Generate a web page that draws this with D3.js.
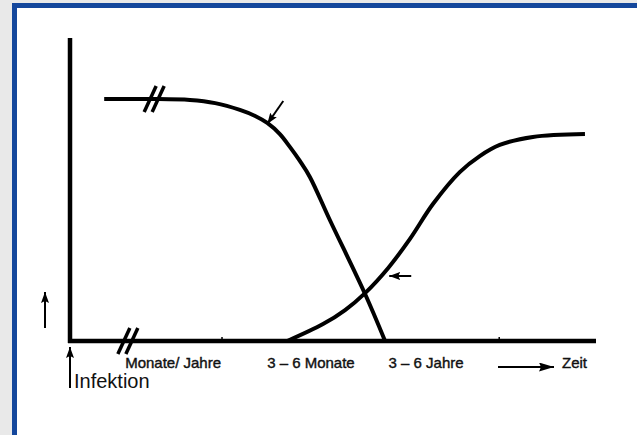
<!DOCTYPE html>
<html>
<head>
<meta charset="utf-8">
<script src="https://cdn.jsdelivr.net/npm/d3@7"></script>
<style>
	html, body { margin: 0; padding: 0; background: #e9e9e9; }
	svg { display: block; }
	text { font-family: "Liberation Sans", Arial, sans-serif; fill: #111; }
</style>
</head>
<body>
<svg id="chart" width="637" height="435"></svg>
<script>
// Verlauf (Zeit 0-100, Niveau 0-100)
var fallendTime = [6.5, 15.2, 22.8, 27.6, 32.3, 35.2, 37.5, 39.9, 41.8, 43.7, 45.6, 49.4, 56.1, 59.9];
var fallendLevel = [100, 100, 99.6, 98.3, 95.5, 93.0, 90.1, 85.5, 80.2, 74.4, 67.8, 50.0, 19.4, 0];
var steigendTime = [41.3, 48.1, 52.3, 56.1, 60.5, 64.6, 69.0, 74.1, 77.9, 81.7, 88.0, 97.9];
var steigendLevel = [0, 7.0, 12.8, 19.8, 30.2, 42.1, 56.6, 69.8, 76.4, 81.0, 84.3, 85.5];

// Beschriftung der Zeitachse
var axisLabels = ["Monate/ Jahre", "3 – 6 Monate", "3 – 6 Jahre"];
var axisLabelTime = [19.6, 45.8, 67.7];
var tickTime = [28.9, 81.6];
var breakAxisTime = 11;
var breakCurveTime = 16;
// Pfeile auf den Kurven
var arrowTime = [37.5, 60.5];

var svg = d3.select("#chart");

// Rahmen
svg.append("rect").attr("x", 12).attr("y", 3).attr("width", 640).attr("height", 450)
	.attr("fill", "#ffffff");
svg.append("path").attr("d", "M14.5,460 V5.5 H640")
	.attr("fill", "none").attr("stroke", "#14479c").attr("stroke-width", 5);

var x = d3.scaleLinear().domain([0, 100]).range([70, 596]);
var y = d3.scaleLinear().domain([0, 100]).range([341, 99]);

var defs = svg.append("defs");
function marker(id, len, wid) {
	defs.append("marker")
		.attr("id", id).attr("viewBox", "0 0 " + len + " " + wid).attr("refX", len).attr("refY", wid / 2)
		.attr("markerWidth", len).attr("markerHeight", wid).attr("markerUnits", "userSpaceOnUse")
		.attr("orient", "auto")
		.append("path").attr("d", "M0,0 L" + len + "," + (wid / 2) + " L0," + wid + " L2," + (wid / 2) + " Z")
		.attr("fill", "#000");
}
marker("head", 11, 8);
marker("headBig", 15, 9);

// Achsen
svg.append("line").attr("x1", x(0)).attr("x2", x(0)).attr("y1", 38).attr("y2", y(0) + 2)
	.attr("stroke", "#000").attr("stroke-width", 4.5);
svg.append("line").attr("x1", x(0) - 2).attr("x2", x(100)).attr("y1", y(0)).attr("y2", y(0))
	.attr("stroke", "#000").attr("stroke-width", 4.5);

svg.selectAll(".tick").data(tickTime).enter().append("line")
	.attr("x1", function(d) { return x(d); }).attr("x2", function(d) { return x(d); })
	.attr("y1", y(0) - 4).attr("y2", y(0))
	.attr("stroke", "#000").attr("stroke-width", 1.5);

// Kurven
var line = d3.line()
	.x(function(d) { return x(d[0]); })
	.y(function(d) { return y(d[1]); })
	.curve(d3.curveCatmullRom.alpha(0.5));

var fallend = d3.zip(fallendTime, fallendLevel);
var steigend = d3.zip(steigendTime, steigendLevel);

svg.append("path").datum(fallend).attr("d", line)
	.attr("fill", "none").attr("stroke", "#000").attr("stroke-width", 4);
svg.append("path").datum(steigend).attr("d", line)
	.attr("fill", "none").attr("stroke", "#000").attr("stroke-width", 4);

// Unterbrechungen "//"
function brk(cx, cy) {
	[-4, 4].forEach(function(o) {
		svg.append("line")
			.attr("x1", cx + o - 6).attr("y1", cy + 13)
			.attr("x2", cx + o + 6).attr("y2", cy - 13)
			.attr("stroke", "#000").attr("stroke-width", 3.5);
	});
}
brk(x(breakAxisTime), y(0));
brk(x(breakCurveTime), y(100));

// Pfeile
var interp1 = d3.scaleLinear().domain(fallendTime).range(fallendLevel);
var a1x = x(arrowTime[0]), a1y = y(interp1(arrowTime[0])) + 1;
svg.append("line").attr("x1", a1x + 16).attr("y1", a1y - 23).attr("x2", a1x).attr("y2", a1y)
	.attr("stroke", "#000").attr("stroke-width", 2).attr("marker-end", "url(#head)");
var a2x = x(arrowTime[1]) + 1, a2y = 276;
svg.append("line").attr("x1", a2x + 22).attr("y1", a2y).attr("x2", a2x).attr("y2", a2y)
	.attr("stroke", "#000").attr("stroke-width", 2).attr("marker-end", "url(#head)");

// Beschriftung
svg.selectAll(".lbl").data(axisLabels).enter().append("text")
	.attr("x", function(d, i) { return x(axisLabelTime[i]); })
	.attr("y", 368)
	.attr("text-anchor", "middle")
	.attr("font-size", 15)
	.attr("stroke", "#111").attr("stroke-width", 0.4)
	.text(function(d) { return d; });

svg.append("line").attr("x1", 498).attr("y1", 367).attr("x2", 554).attr("y2", 367)
	.attr("stroke", "#000").attr("stroke-width", 2.2).attr("marker-end", "url(#headBig)");
svg.append("text").attr("x", 562).attr("y", 368).attr("font-size", 15)
	.attr("stroke", "#111").attr("stroke-width", 0.4).text("Zeit");

svg.append("line").attr("x1", x(0)).attr("y1", 388).attr("x2", x(0)).attr("y2", 347)
	.attr("stroke", "#000").attr("stroke-width", 2).attr("marker-end", "url(#head)");
svg.append("text").attr("x", 74).attr("y", 388).attr("font-size", 20).text("Infektion");

svg.append("line").attr("x1", 45).attr("y1", 328).attr("x2", 45).attr("y2", 292)
	.attr("stroke", "#000").attr("stroke-width", 2).attr("marker-end", "url(#head)");
</script>
</body>
</html>
